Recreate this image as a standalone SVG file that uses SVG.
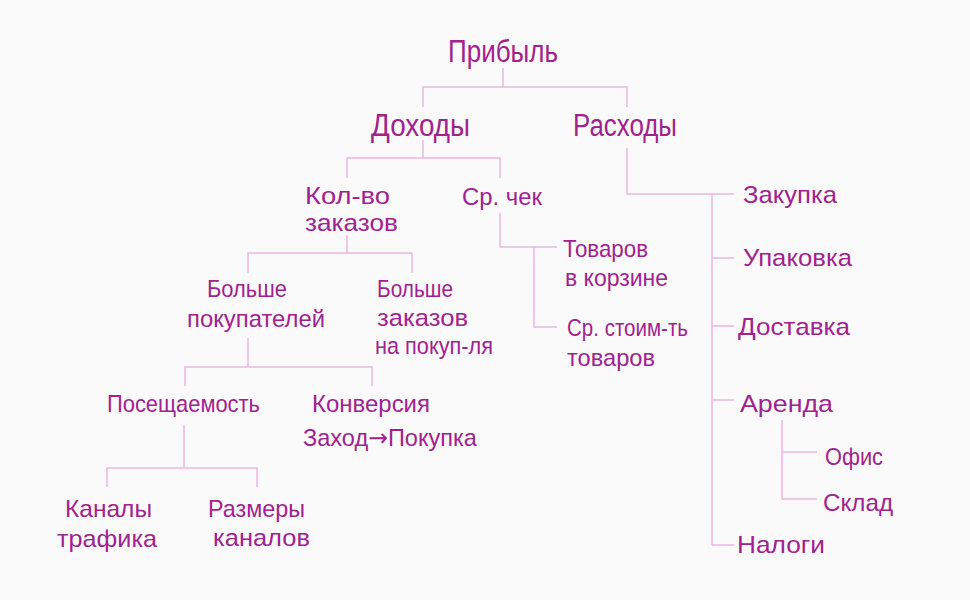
<svg xmlns="http://www.w3.org/2000/svg" width="970" height="600" viewBox="0 0 970 600">
<style>
.bg{fill:#fafafa}
.c path{fill:none;stroke:#ebb6e2;stroke-width:1.5}
text{font-family:"Liberation Sans",Arial,sans-serif;fill:#a0228e;font-size:24px}
.h{font-size:31px}
.ar{font-family:"DejaVu Sans",sans-serif;font-size:24px}
</style>
<rect class="bg" width="970" height="600"/>
<g class="c" id="connectors">
<path d="M503,68V87M423,107V87H627V107"/>
<path d="M423,140V158M347,178V158H500V178"/>
<path d="M627,148V194H734M712,194V545M712,258H734M712,326H734M712,400H734M712,545H734"/>
<path d="M500,213V247H557M534,247V327H557"/>
<path d="M347,235V253M248,273V253H412V273"/>
<path d="M248,338V367M185,386V367H372V386"/>
<path d="M184,425V468M107,487V468H257V487"/>
<path d="M782,420V499H817M782,452H817"/>
</g>
<g id="n-pribyl"><text class="h" x="448" y="62" textLength="110" lengthAdjust="spacingAndGlyphs">Прибыль</text></g>
<g id="n-dohody"><text class="h" x="371" y="136" textLength="99" lengthAdjust="spacingAndGlyphs">Доходы</text></g>
<g id="n-rashody"><text class="h" x="573" y="136" textLength="104" lengthAdjust="spacingAndGlyphs">Расходы</text></g>
<g id="n-kolvo"><text><tspan x="305" y="204" textLength="85" lengthAdjust="spacingAndGlyphs">Кол-во</tspan><tspan x="305" y="231" textLength="93" lengthAdjust="spacingAndGlyphs">заказов</tspan></text></g>
<g id="n-srchek"><text x="462" y="205" textLength="80" lengthAdjust="spacingAndGlyphs">Ср. чек</text></g>
<g id="n-tovarov"><text><tspan x="563" y="257" textLength="85" lengthAdjust="spacingAndGlyphs">Товаров</tspan><tspan x="565" y="286" textLength="103" lengthAdjust="spacingAndGlyphs">в корзине</tspan></text></g>
<g id="n-srstoim"><text><tspan x="567" y="336" textLength="121" lengthAdjust="spacingAndGlyphs">Ср. стоим-ть</tspan><tspan x="567" y="366" textLength="88" lengthAdjust="spacingAndGlyphs">товаров</tspan></text></g>
<g id="n-bolshe-pok"><text><tspan x="207" y="297" textLength="80" lengthAdjust="spacingAndGlyphs">Больше</tspan><tspan x="187" y="327" textLength="138" lengthAdjust="spacingAndGlyphs">покупателей</tspan></text></g>
<g id="n-bolshe-zak"><text><tspan x="377" y="297" textLength="76" lengthAdjust="spacingAndGlyphs">Больше</tspan><tspan x="377" y="326" textLength="91" lengthAdjust="spacingAndGlyphs">заказов</tspan><tspan x="375" y="354" textLength="118" lengthAdjust="spacingAndGlyphs">на покуп-ля</tspan></text></g>
<g id="n-poseshch"><text x="107" y="412" textLength="153" lengthAdjust="spacingAndGlyphs">Посещаемость</text></g>
<g id="n-konversiya"><text><tspan x="312" y="412" textLength="118" lengthAdjust="spacingAndGlyphs">Конверсия</tspan><tspan x="303" y="446" textLength="174" lengthAdjust="spacingAndGlyphs">Заход<tspan class="ar">→</tspan>Покупка</tspan></text></g>
<g id="n-kanaly"><text><tspan x="65" y="517" textLength="87" lengthAdjust="spacingAndGlyphs">Каналы</tspan><tspan x="57" y="547" textLength="100" lengthAdjust="spacingAndGlyphs">трафика</tspan></text></g>
<g id="n-razmery"><text><tspan x="208" y="517" textLength="97" lengthAdjust="spacingAndGlyphs">Размеры</tspan><tspan x="213" y="546" textLength="97" lengthAdjust="spacingAndGlyphs">каналов</tspan></text></g>
<g id="n-zakupka"><text x="743" y="203" textLength="94" lengthAdjust="spacingAndGlyphs">Закупка</text></g>
<g id="n-upakovka"><text x="743" y="266" textLength="109" lengthAdjust="spacingAndGlyphs">Упаковка</text></g>
<g id="n-dostavka"><text x="738" y="335" textLength="112" lengthAdjust="spacingAndGlyphs">Доставка</text></g>
<g id="n-arenda"><text x="740" y="412" textLength="93" lengthAdjust="spacingAndGlyphs">Аренда</text></g>
<g id="n-ofis"><text x="825" y="465" textLength="58" lengthAdjust="spacingAndGlyphs">Офис</text></g>
<g id="n-sklad"><text x="823" y="511" textLength="70" lengthAdjust="spacingAndGlyphs">Склад</text></g>
<g id="n-nalogi"><text x="737" y="553" textLength="88" lengthAdjust="spacingAndGlyphs">Налоги</text></g>
</svg>
